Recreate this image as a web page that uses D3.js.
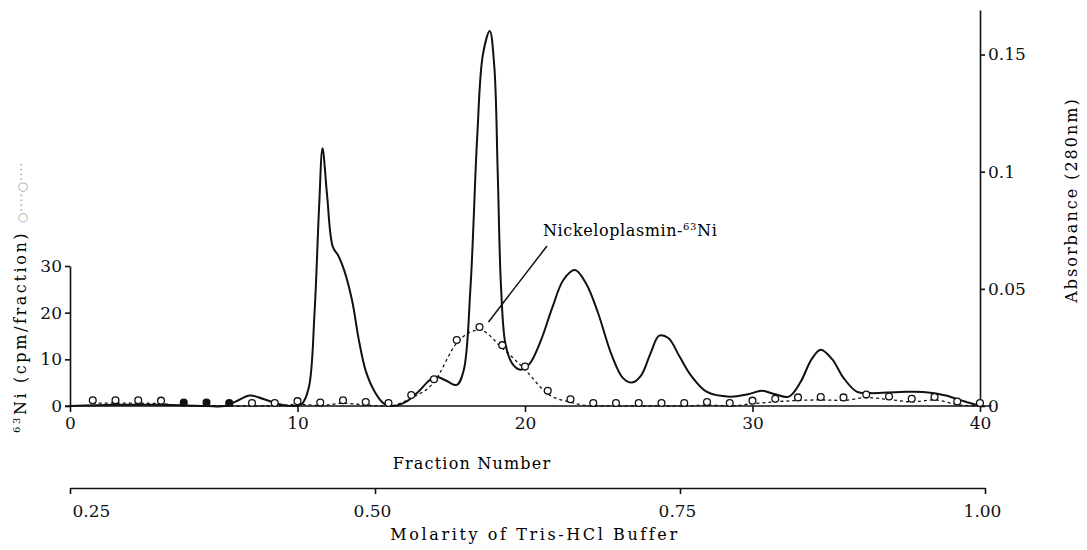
<!DOCTYPE html>
<html>
<head>
<meta charset="utf-8">
<script src="https://cdn.jsdelivr.net/npm/d3@7"></script>
<style>
	body { margin: 0; background: #fff; }
	svg { font-family: 'DejaVu Serif', 'Liberation Serif', serif; }
	.axis path, .axis line { stroke: #111; stroke-width: 1.6px; }
	.axis text { font-size: 16px; fill: #111; font-family: 'DejaVu Serif', serif; }
</style>
</head>
<body>
<svg id="chart" width="1087" height="550"></svg>
<script>
// absorbance at 280nm (solid line)
var absFraction = [0, 2, 4, 6, 6.8, 7.3, 7.9, 8.5, 9.3, 9.8, 10.2, 10.5, 10.75, 10.95, 11.1, 11.3, 11.55, 11.8, 12.05, 12.4, 12.7, 13.0, 13.4, 13.8, 14.2,
	14.8, 15.3, 15.8, 16.1, 16.5, 17.0, 17.3, 17.6, 17.9, 18.15, 18.45, 18.65, 18.8, 18.95, 19.15, 19.45, 19.8, 20.2, 20.7, 21.2, 21.7, 22.2, 22.7,
	23.2, 23.8, 24.3, 24.7, 25.1, 25.5, 25.9, 26.3, 26.8, 27.3, 28.0, 29.0, 29.8, 30.4, 31.0, 31.6, 32.1, 32.6, 33.0, 33.5, 34.0, 34.6,
	35.2, 36.5, 37.5, 38.5, 39.3, 40];
var absValue = [0, 0.0005, 0.0005, 0, 0, 0.002, 0.0045, 0.003, 0.0005, 0, 0.001, 0.008, 0.04, 0.085, 0.11, 0.09, 0.068, 0.064, 0.058, 0.045, 0.028, 0.015, 0.006, 0.001, 0,
	0.002, 0.006, 0.011, 0.0125, 0.011, 0.009, 0.015, 0.05, 0.115, 0.15, 0.16, 0.145, 0.1, 0.05, 0.026, 0.018, 0.0155, 0.018, 0.028, 0.042, 0.054, 0.058, 0.052,
	0.04, 0.022, 0.012, 0.01, 0.013, 0.022, 0.03, 0.029, 0.021, 0.013, 0.006, 0.004, 0.005, 0.0065, 0.005, 0.004, 0.01, 0.02, 0.024, 0.02, 0.012, 0.006,
	0.0055, 0.006, 0.006, 0.0045, 0.002, 0];

// 63Ni counts (dotted line with circles)
var niFraction = [1, 2, 3, 4, 5, 6, 7, 8, 9, 10, 11, 12, 13, 14, 15, 16, 17, 18, 19, 20,
	21, 22, 23, 24, 25, 26, 27, 28, 29, 30, 31, 32, 33, 34, 35, 36, 37, 38, 39, 40];
var niCpm = [0.6, 0.6, 0.6, 0.5, 0.1, 0.1, 0, 0, 0, 0.4, 0.1, 0.6, 0.2, 0, 1.7, 5.1, 13.5, 16.3, 12.4, 7.8,
	2.6, 0.8, 0, 0, 0, 0, 0, 0.2, 0, 0.5, 0.9, 1.2, 1.3, 1.2, 1.8, 1.4, 0.9, 1.3, 0.3, 0];
var niFilled = [5, 6, 7];

var fractionTicks = [0, 10, 20, 30, 40];
var cpmTicks = [0, 10, 20, 30];
var absTicks = [0, 0.05, 0.1, 0.15];
var absTickLabels = ['0', '0.05', '0.1', '0.15'];
var molarityTicks = [0.25, 0.5, 0.75, 1.0];
var molarityTickLabels = ['0.25', '0.50', '0.75', '1.00'];

var svg = d3.select('#chart');

var xScale = d3.scaleLinear().domain([0, 40]).range([70, 980]);
var cpmScale = d3.scaleLinear().domain([0, 30]).range([406, 266]);
var absScale = d3.scaleLinear().domain([0, 0.169]).range([406, 10]);
var molScale = d3.scaleLinear().domain([0.25, 1.0]).range([70, 985]);

function drawAxes() {
	var bottomAxis = svg.append('g')
		.classed('axis', true)
		.attr('transform', 'translate(0,' + cpmScale(0) + ')')
		.call(d3.axisBottom(xScale).tickValues(fractionTicks).tickSize(6).tickSizeOuter(0).tickPadding(5));
	bottomAxis.select('.domain').remove();
	bottomAxis.append('line')
		.attr('x1', xScale(-0.2)).attr('x2', xScale(40.5))
		.attr('stroke', '#111').attr('stroke-width', 1.6);
	bottomAxis.selectAll('.tick text').style('font-size', '17px');

	var leftAxis = svg.append('g')
		.classed('axis', true)
		.attr('transform', 'translate(' + xScale(0) + ',0)')
		.call(d3.axisLeft(cpmScale).tickValues(cpmTicks).tickSize(5).tickSizeOuter(0).tickPadding(3));
	leftAxis.selectAll('.tick text').style('font-size', '17px');

	var rightAxis = svg.append('g')
		.classed('axis', true)
		.attr('transform', 'translate(' + xScale(40) + ',0)')
		.call(d3.axisRight(absScale).tickValues(absTicks).tickSize(5).tickSizeOuter(0).tickPadding(3)
			.tickFormat(function(d, i) { return absTickLabels[i]; }));
	rightAxis.selectAll('.tick text').style('font-size', '17px');

	var molAxis = svg.append('g')
		.classed('axis', true)
		.attr('transform', 'translate(0,488)')
		.call(d3.axisBottom(molScale).tickValues(molarityTicks).tickSize(6).tickSizeOuter(0).tickPadding(11)
			.tickFormat(function(d, i) { return molarityTickLabels[i]; }));
	molAxis.selectAll('.tick text')
		.style('font-size', '17px')
		.attr('text-anchor', function(d, i) { return i == 0 ? 'start' : 'middle'; })
		.attr('dx', function(d, i) { return i == 0 ? 2 : -3; });

	svg.append('text')
		.attr('x', 472).attr('y', 469)
		.attr('text-anchor', 'middle')
		.style('font-size', '16px').style('letter-spacing', '1.2px')
		.text('Fraction Number');

	svg.append('text')
		.attr('x', 535).attr('y', 540)
		.attr('text-anchor', 'middle')
		.style('font-size', '16px').style('letter-spacing', '2.6px')
		.text('Molarity of Tris-HCl  Buffer');

	svg.append('text')
		.attr('transform', 'translate(1077,200) rotate(-90)')
		.attr('text-anchor', 'middle')
		.style('font-size', '16px').style('letter-spacing', '2px')
		.text('Absorbance (280nm)');

	var leftLabel = svg.append('text')
		.attr('transform', 'translate(26,433) rotate(-90)')
		.attr('text-anchor', 'start')
		.style('font-size', '16px').style('letter-spacing', '2.6px');
	leftLabel.append('tspan').attr('dy', -6).style('font-size', '10px').text('63');
	leftLabel.append('tspan').attr('dy', 6).text('Ni (cpm/fraction) ');
	leftLabel.append('tspan').style('fill', '#aaa').style('font-size', '12px').style('letter-spacing', '1px').text('○····○····');
}
drawAxes();

function drawData() {
	var absLine = d3.line()
		.x(function(d) { return xScale(d[0]); })
		.y(function(d) { return absScale(d[1]); })
		.curve(d3.curveCatmullRom.alpha(0.5));
	svg.append('path')
		.datum(d3.zip(absFraction, absValue))
		.attr('d', absLine)
		.attr('fill', 'none')
		.attr('stroke', '#111')
		.attr('stroke-width', 2);

	var niLine = d3.line()
		.x(function(d) { return xScale(d[0]); })
		.y(function(d) { return cpmScale(d[1]); })
		.curve(d3.curveMonotoneX);
	svg.append('path')
		.datum(d3.zip(niFraction, niCpm))
		.attr('d', niLine)
		.attr('fill', 'none')
		.attr('stroke', '#111')
		.attr('stroke-width', 1.3)
		.attr('stroke-dasharray', '3,3');

	svg.selectAll('.ni-point').data(d3.zip(niFraction, niCpm)).enter().append('circle')
		.classed('ni-point', true)
		.attr('cx', function(d) { return xScale(d[0]); })
		.attr('cy', function(d) { return cpmScale(d[1]) - 3; })
		.attr('r', 3.4)
		.attr('fill', function(d) { return niFilled.indexOf(d[0]) >= 0 ? '#111' : '#fff'; })
		.attr('stroke', '#111')
		.attr('stroke-width', 1.3);
}
drawData();

function drawAnnotation() {
	var peakIndex = niCpm.indexOf(d3.max(niCpm));
	var px = xScale(niFraction[peakIndex]) + 9;
	var py = cpmScale(niCpm[peakIndex]) - 8;
	svg.append('line')
		.attr('x1', 547).attr('y1', 246)
		.attr('x2', px).attr('y2', py)
		.attr('stroke', '#111').attr('stroke-width', 1.5);

	var label = svg.append('text')
		.attr('x', 543).attr('y', 236)
		.style('font-size', '16px').style('letter-spacing', '0.6px');
	label.append('tspan').text('Nickeloplasmin-');
	label.append('tspan').attr('dy', -6).style('font-size', '10px').text('63');
	label.append('tspan').attr('dy', 6).text('Ni');
}
drawAnnotation();
</script>
</body>
</html>
